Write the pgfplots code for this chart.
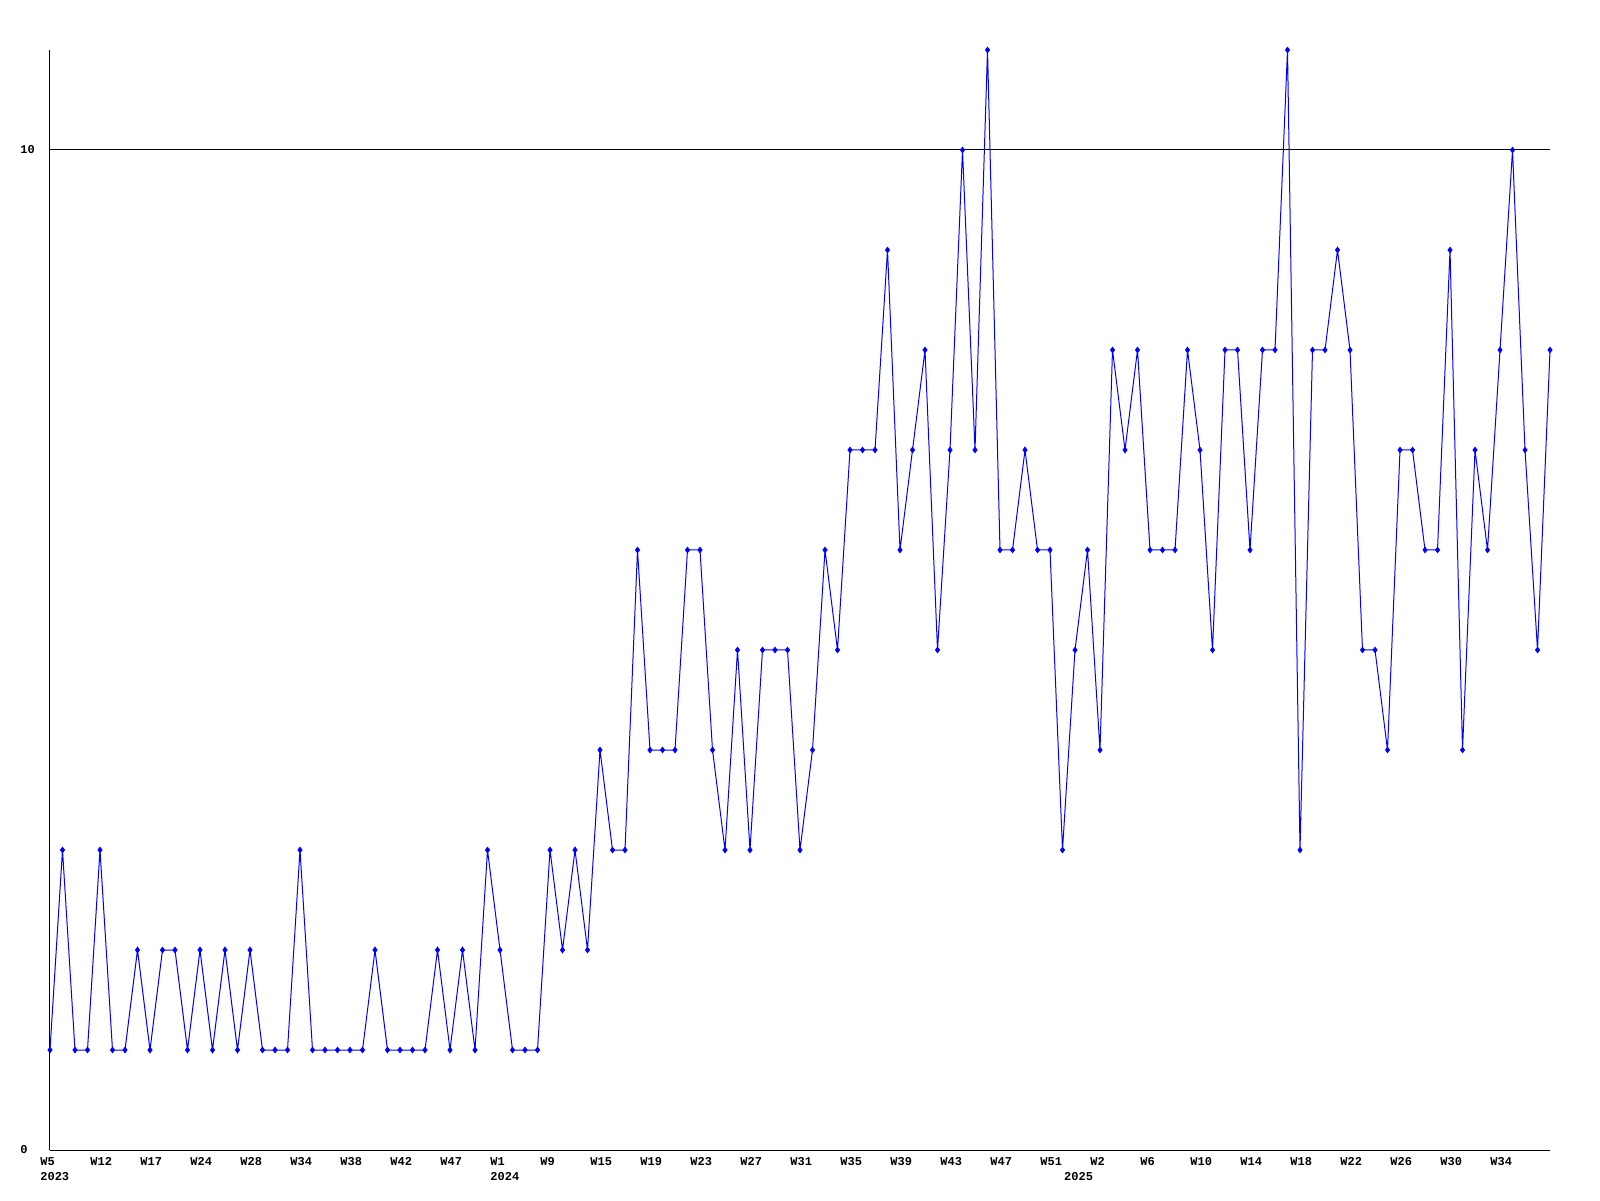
\documentclass[border=0pt]{standalone}
\usepackage{fontspec}
\setmainfont{Liberation Mono}
\setmonofont{Liberation Mono}
\usepackage{pgfplots}
\pgfplotsset{compat=1.18}
\definecolor{lineblue}{RGB}{0,0,255}
\begin{document}
\begin{tikzpicture}
\path[use as bounding box] (-25pt,-25pt) rectangle (775pt,575pt);
\begin{axis}[
  at={(0,0)}, anchor=south west,
  scale only axis, width=750pt, height=550pt,
  xmin=0, xmax=120, ymin=0, ymax=11,
  clip=false,
  axis x line=bottom, axis y line=left,
  axis line style={-, black, line width=0.5pt},
  every outer x axis line/.append style={-},
  every outer y axis line/.append style={-},
  major tick length=0pt,
  ytick={0,10}, yticklabels={0,10},
  ymajorgrids, grid style={black, line width=0.5pt},
  yticklabel style={anchor=west, inner sep=0pt, xshift=-15pt, font=\fontsize{6}{7}\selectfont\bfseries},
  xtick={0,4,...,116},
  xticklabels={W5,W12,W17,W24,W28,W34,W38,W42,W47,W1,W9,W15,W19,W23,W27,W31,W35,W39,W43,W47,W51,W2,W6,W10,W14,W18,W22,W26,W30,W34},
  xticklabel style={anchor=north west, inner sep=0pt, xshift=-5pt, yshift=-3.5pt, font=\fontsize{6}{7}\selectfont\bfseries},
  extra x ticks={0,36,81.9},
  extra x tick labels={2023,2024,2025},
  extra x tick style={grid=none, major tick length=0pt, xticklabel style={yshift=-7.6pt}},
]
\addplot[color=lineblue, line width=0.5pt, mark=diamond*, mark size=1.3pt, mark options={fill=lineblue, draw=lineblue}] coordinates {
(0,1)(1,3)(2,1)(3,1)(4,3)(5,1)(6,1)(7,2)(8,1)(9,2)(10,2)(11,1)(12,2)(13,1)(14,2)(15,1)(16,2)(17,1)(18,1)(19,1)
(20,3)(21,1)(22,1)(23,1)(24,1)(25,1)(26,2)(27,1)(28,1)(29,1)(30,1)(31,2)(32,1)(33,2)(34,1)(35,3)(36,2)(37,1)(38,1)(39,1)
(40,3)(41,2)(42,3)(43,2)(44,4)(45,3)(46,3)(47,6)(48,4)(49,4)(50,4)(51,6)(52,6)(53,4)(54,3)(55,5)(56,3)(57,5)(58,5)(59,5)
(60,3)(61,4)(62,6)(63,5)(64,7)(65,7)(66,7)(67,9)(68,6)(69,7)(70,8)(71,5)(72,7)(73,10)(74,7)(75,11)(76,6)(77,6)(78,7)(79,6)
(80,6)(81,3)(82,5)(83,6)(84,4)(85,8)(86,7)(87,8)(88,6)(89,6)(90,6)(91,8)(92,7)(93,5)(94,8)(95,8)(96,6)(97,8)(98,8)(99,11)
(100,3)(101,8)(102,8)(103,9)(104,8)(105,5)(106,5)(107,4)(108,7)(109,7)(110,6)(111,6)(112,9)(113,4)(114,7)(115,6)(116,8)(117,10)(118,7)(119,5)
(120,8)
};
\end{axis}
\end{tikzpicture}
\end{document}
